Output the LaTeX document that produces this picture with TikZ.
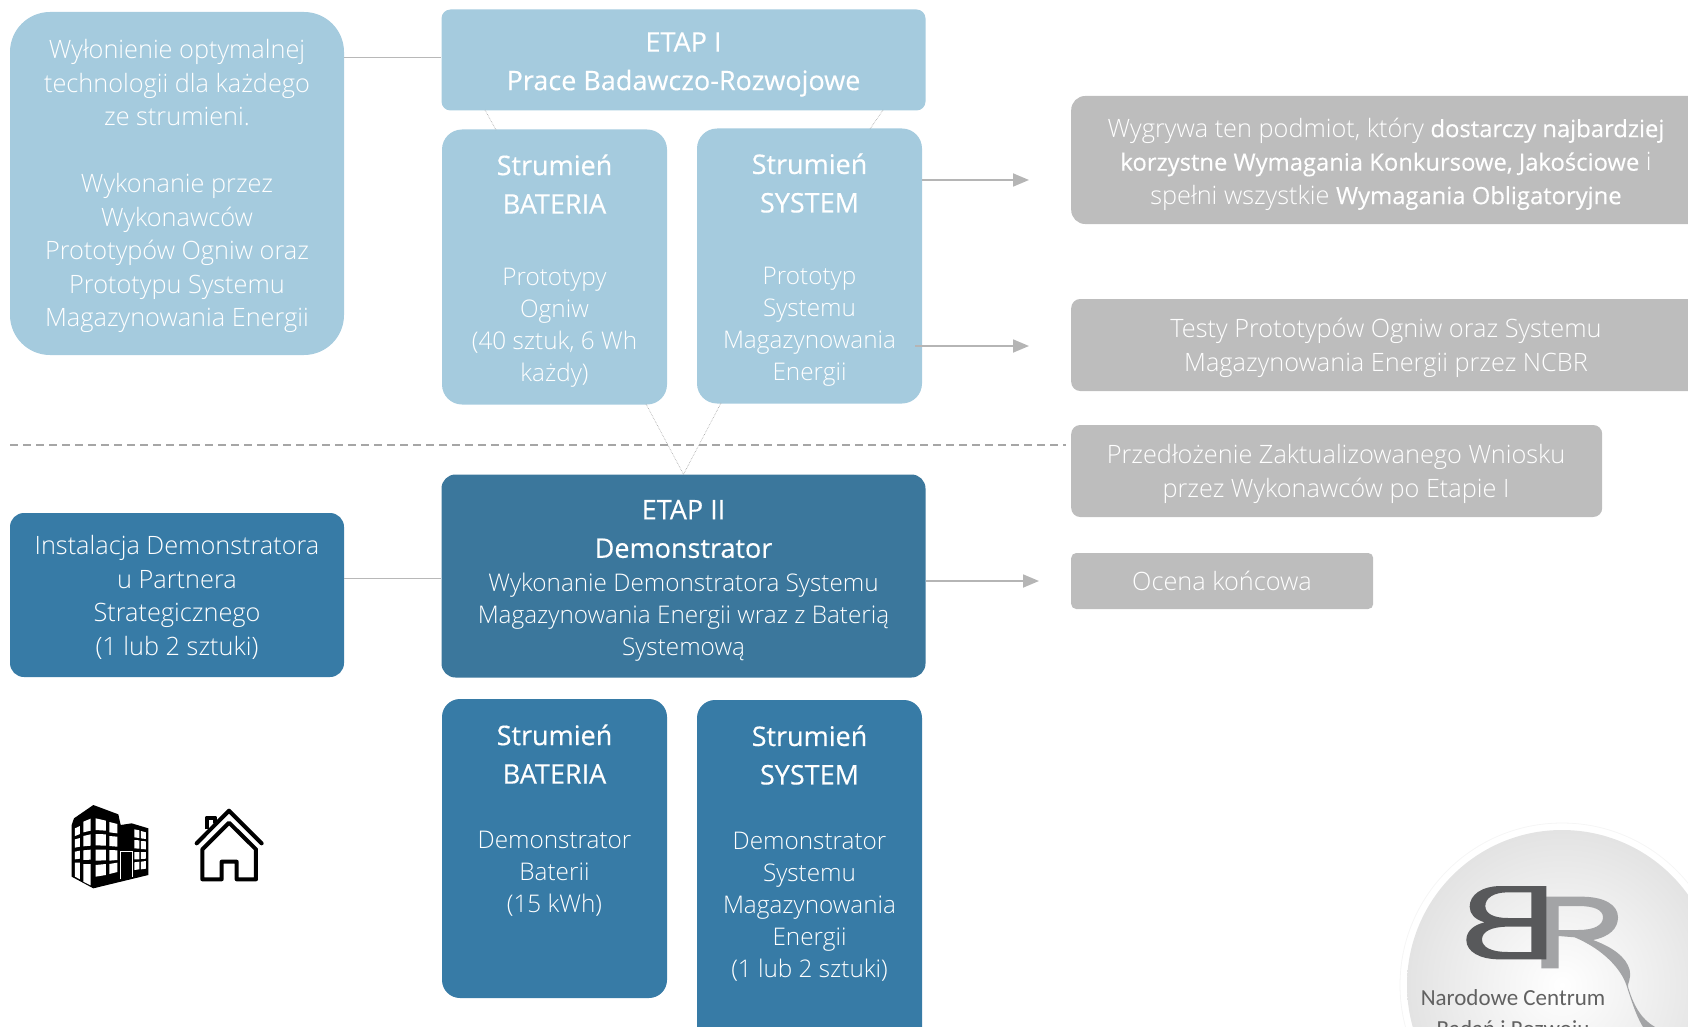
\documentclass[tikz,border=0pt]{standalone}
\usepackage{fontspec}
\setmainfont{Open Sans Light}[BoldFont={Open Sans},BoldFeatures={FakeBold=0.35}]
\newfontfamily\logofont{Carlito}
\usetikzlibrary{arrows.meta}
\definecolor{lite}{HTML}{A5CBDE}
\definecolor{etapdark}{HTML}{3B779C}
\definecolor{deep}{HTML}{377BA6}
\definecolor{greybox}{HTML}{BDBDBD}
\definecolor{rule}{HTML}{A6A6A6}
\definecolor{tip}{HTML}{B5B5B5}
\definecolor{logoB}{HTML}{58595B}
\definecolor{logoR}{HTML}{A3A4A6}
\newcommand{\hilite}[1]{{\bfseries\fontsize{23.8}{33.5}\selectfont #1}}
\tikzset{
 panel/.style={rounded corners=#1,inner sep=0pt},
 panel/.default=14pt,
 body/.style={text=white,align=center,inner sep=0pt,font=\fontsize{24.3}{32}\selectfont},
 wide/.style={body,font=\fontsize{25.3}{33.5}\selectfont},
 head/.style={text=white,align=center,inner sep=0pt,font=\fontsize{27}{38.5}\bfseries\selectfont},
 thinlink/.style={draw=black!28,line width=.5pt},
 dotlink/.style={draw=black!38,line width=.6pt,densely dotted},
 flow/.style={draw=tip,line width=1.8pt,-{Triangle[length=16pt,width=13pt]}},
}
\begin{document}
\begin{tikzpicture}[x=1pt,y=-1pt]
\useasboundingbox (0,0) rectangle (1688,1027);
\clip (0,0) rectangle (1688,1027);
% coordinates for connector ends
\coordinate (t1) at (1029,180);
\coordinate (t2) at (1029,346);
\coordinate (t3) at (1039,581);
\coordinate (d0) at (10,445);
\coordinate (d1) at (1066,445);
\node[panel=40pt,fill=lite,minimum width=334pt,minimum height=343pt] (left1) at (177,183.5) {};
\node[panel=9pt,fill=lite,minimum width=484pt,minimum height=101pt] (etap1) at (683.5,60) {};
\node[panel=20pt,fill=lite,minimum width=225pt,minimum height=275pt] (bat1) at (554.5,267) {};
\node[panel=20pt,fill=lite,minimum width=225pt,minimum height=275pt] (sys1) at (809.5,266) {};
\node[panel=14pt,fill=etapdark,minimum width=484pt,minimum height=203pt] (etap2) at (683.5,576) {};
\node[panel=14pt,fill=deep,minimum width=334pt,minimum height=164pt] (left2) at (177,595) {};
\node[panel=18pt,fill=deep,minimum width=225pt,minimum height=299pt] (bat2) at (554.5,848.5) {};
\node[panel=18pt,fill=deep,minimum width=225pt,minimum height=345pt] (sys2) at (809.5,872.5) {};
\node[panel=14pt,fill=greybox,minimum width=640pt,minimum height=128pt,anchor=west] (g1) at (1071,160) {};
\node[panel=9pt,fill=greybox,minimum width=640pt,minimum height=92pt,anchor=west] (g2) at (1071,345) {};
\node[panel=9pt,fill=greybox,minimum width=531pt,minimum height=92pt,anchor=west] (g3) at (1071,471) {};
\node[panel=5pt,fill=greybox,minimum width=302pt,minimum height=56pt,anchor=west] (g4) at (1071,581) {};
% connectors
\draw[thinlink] (left1.east|-0,57) -- (etap1.west|-0,57);
\draw[thinlink] (left2.east|-0,578) -- (etap2.west|-0,578);
\draw[dotlink] (485,110) -- (496,130);
\draw[dotlink] (883,110) -- (870,129);
\draw[dotlink] (646,404) -- (etap2.north);
\draw[dotlink] (721,403) -- (etap2.north);
\draw[draw=rule,line width=1.5pt,dash pattern=on 8pt off 5pt] (d0) -- (d1);
\draw[flow] (sys1.east|-t1) -- (t1);
\draw[flow] (915,346) -- (t2);
\draw[flow] (etap2.east|-t3) -- (t3);
% texts
\node[wide] (left1a) at (177,83) {Wyłonienie optymalnej\\technologii dla każdego\\ze strumieni.};
\node[wide] (left1b) at (177,253) {Wykonanie przez\\Wykonawców\\Prototypów Ogniw oraz\\Prototypu Systemu\\Magazynowania Energii};
\node[head] (etap1t) at (683.5,64.5) {ETAP I\\Prace Badawczo-Rozwojowe};
\node[head] (bat1t) at (554.5,184) {Strumień\\BATERIA};
\node[body] (bat1b) at (554.5,328) {Prototypy\\Ogniw\\(40 sztuk, 6 Wh\\każdy)};
\node[head] (sys1t) at (809.5,183) {Strumień\\SYSTEM};
\node[body] (sys1b) at (809.5,327) {Prototyp\\Systemu\\Magazynowania\\Energii};
\node[head] (etap2t) at (683.5,529) {ETAP II\\Demonstrator};
\node[body] (etap2b) at (683.5,617) {Wykonanie Demonstratora Systemu\\Magazynowania Energii wraz z Baterią\\Systemową};
\node[wide] (left2t) at (177,597.5) {Instalacja Demonstratora\\u Partnera\\Strategicznego\\(1 lub 2 sztuki)};
\node[head] (bat2t) at (554.5,754) {Strumień\\BATERIA};
\node[body] (bat2b) at (554.5,874) {Demonstrator\\Baterii\\(15 kWh)};
\node[head] (sys2t) at (809.5,755) {Strumień\\SYSTEM};
\node[body] (sys2b) at (809.5,907) {Demonstrator\\Systemu\\Magazynowania\\Energii\\(1 lub 2 sztuki)};
\node[wide] (g1t) at (1386,164) {Wygrywa ten podmiot, który \hilite{dostarczy najbardziej}\\\hilite{korzystne Wymagania Konkursowe, Jakościowe} i\\spełni wszystkie \hilite{Wymagania Obligatoryjne}};
\node[wide] (g2t) at (1386,348) {Testy Prototypów Ogniw oraz Systemu\\Magazynowania Energii przez NCBR};
\node[wide] (g3t) at (1336,474) {Przedłożenie Zaktualizowanego Wniosku\\przez Wykonawców po Etapie I};
\node[wide] (g4t) at (1222,581) {Ocena końcowa};
% building
\begin{scope}[shift={(0,700)},scale=1/3]
\fill[black] (215,375)--(222,355)--(280,315)--(355,343)--(362,375)--(395,370)--(445,385)--(445,525)--(280,565)--(215,530)--cycle;
\fill[white] (225,385)--(240,378)--(240,402)--(225,408)--cycle
 (225,418)--(240,414)--(240,440)--(225,443)--cycle
 (225,455)--(240,452)--(240,476)--(225,478)--cycle
 (225,488)--(240,488)--(240,538)--(225,530)--cycle
 (250,365)--(272,356)--(272,392)--(250,397)--cycle
 (250,408)--(272,403)--(272,437)--(250,439)--cycle
 (250,451)--(272,449)--(272,479)--(250,480)--cycle
 (250,492)--(272,492)--(272,556)--(250,545)--cycle
 (287,355)--(318,362)--(318,392)--(287,390)--cycle
 (287,402)--(318,403)--(318,437)--(287,436)--cycle
 (287,449)--(318,449)--(318,481)--(287,482)--cycle
 (287,495)--(318,492)--(318,525)--(287,530)--cycle
 (328,366)--(352,372)--(352,400)--(328,397)--cycle
 (328,408)--(352,410)--(352,440)--(328,438)--cycle
 (328,450)--(352,451)--(352,480)--(328,482)--cycle
 (328,492)--(352,488)--(352,516)--(328,522)--cycle
 (403,388)--(418,391)--(418,414)--(403,412)--cycle
 (423,393)--(438,397)--(438,417)--(423,415)--cycle
 (403,420)--(418,421)--(418,446)--(403,445)--cycle
 (423,423)--(438,424)--(438,448)--(423,447)--cycle
 (403,456)--(418,456)--(418,478)--(403,478)--cycle
 (423,456)--(438,456)--(438,476)--(423,477)--cycle
 (403,487)--(418,485)--(418,508)--(403,510)--cycle
 (423,485)--(438,483)--(438,506)--(423,508)--cycle;
\draw[white,line width=1pt] (362,538)--(362,455)--(397,455)--(397,532);
% house
\draw[black,line width=4pt,line cap=round,line join=round] (590,430)--(687,332)--(785,430);
\draw[black,line width=4pt,line join=round] (687,368)--(607,448)--(607,538)--(665,538)--(665,485)--(710,485)--(710,538)--(768,538)--(768,448)--cycle;
\draw[black,line width=4pt,line join=round] (620,388)--(620,353)--(646,353)--(646,368);
\end{scope}
% logo
\shade[inner color=white,outer color=black!11] (1562,985) circle (155);
\draw[black!4,line width=.8pt] (1562,985) circle (162);
\begin{scope}[shift={(1368,800)},scale=1/3]
\fill[logoR,even odd rule] (520,505)--(520,290)--(640,290) .. controls (710,290) and (750,315) .. (750,352) .. controls (750,385) and (725,410) .. (675,420) .. controls (730,440) and (775,470) .. (785,510) .. controls (790,540) and (778,550) .. (780,560) .. controls (800,630) and (830,670) .. (880,690) -- (840,700) .. controls (810,670) and (790,600) .. (775,555) .. controls (760,510) and (710,450) .. (620,412) -- (572,408) -- (572,505) -- cycle
 (572,318)--(572,390)--(630,390) .. controls (680,390) and (705,375) .. (705,352) .. controls (705,330) and (680,318) .. (630,318) -- cycle;
\fill[logoB,even odd rule] (535,258)--(400,258) .. controls (340,258) and (305,285) .. (305,320) .. controls (305,342) and (320,358) .. (350,367) .. controls (315,375) and (295,395) .. (295,420) .. controls (295,455) and (335,478) .. (395,478) -- (535,478) -- cycle
 (490,277)--(420,277) .. controls (375,277) and (352,295) .. (352,318) .. controls (352,340) and (375,354) .. (420,354) -- (490,354) -- cycle
 (490,380)--(420,380) .. controls (370,380) and (342,395) .. (342,418) .. controls (342,442) and (370,456) .. (420,456) -- (490,456) -- cycle;
\end{scope}
\node[inner sep=0pt,text=black!62,align=center,font=\logofont\fontsize{23}{31}\selectfont] (logot) at (1513,1015) {Narodowe Centrum\\Badań i Rozwoju};
\end{tikzpicture}
\end{document}
